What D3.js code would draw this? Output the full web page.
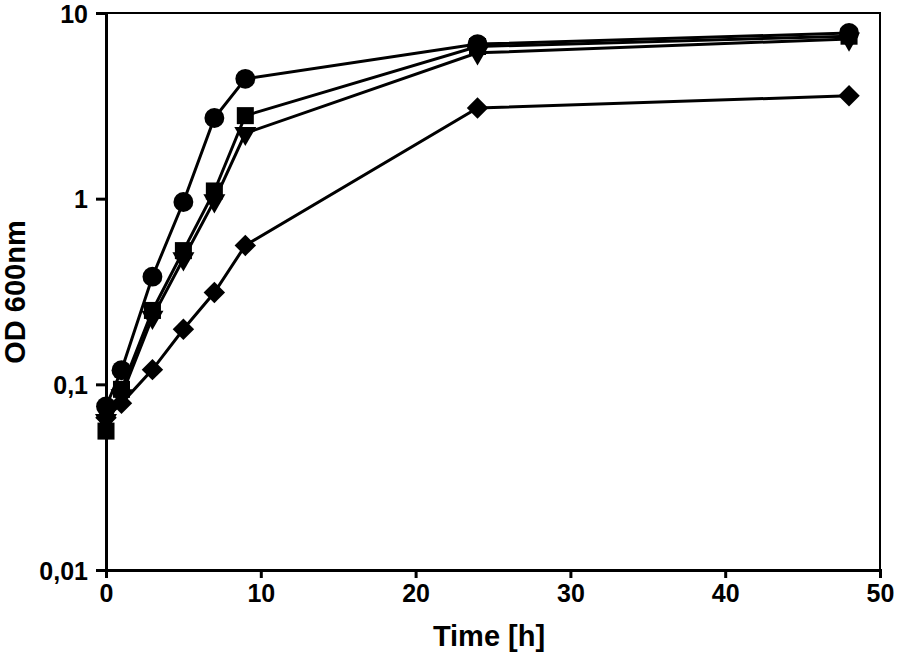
<!DOCTYPE html>
<html><head><meta charset="utf-8">
<script src="https://cdn.jsdelivr.net/npm/d3@7"></script>
<style>body{margin:0;background:#fff}svg{display:block}</style>
</head><body>
<script>
const times = [0, 1, 3, 5, 7, 9, 24, 48];
const circleSeries  = [0.076, 0.119, 0.38, 0.96, 2.72, 4.42, 6.8, 7.8];
const squareSeries  = [0.056, 0.094, 0.25, 0.525, 1.1, 2.8, 6.6, 7.5];
const triangleSeries= [0.064, 0.087, 0.23, 0.475, 0.975, 2.25, 6.1, 7.25];
const diamondSeries = [0.066, 0.079, 0.12, 0.198, 0.312, 0.56, 3.08, 3.58];
const xTicks = [0, 10, 20, 30, 40, 50];
const yTicks = [0.01, 0.1, 1, 10];
const yTickLabels = ["0,01", "0,1", "1", "10"];

const W = 898, H = 663;
const m = {left: 106, right: 18, top: 13, bottom: 93};
const svg = d3.select("body").append("svg").attr("width", W).attr("height", H);
const x = d3.scaleLinear().domain([0, 50]).range([m.left, W - m.right]);
const y = d3.scaleLog().domain([0.01, 10]).range([H - m.bottom, m.top]);

const font = "'Liberation Sans', Arial, sans-serif";

svg.append("rect").attr("x", m.left).attr("y", m.top)
  .attr("width", W - m.right - m.left).attr("height", H - m.bottom - m.top)
  .attr("fill", "none").attr("stroke", "#000").attr("stroke-width", 2);

const xAxis = svg.append("g").attr("transform", `translate(0,${H - m.bottom})`)
  .call(d3.axisBottom(x).tickValues(xTicks).tickSize(8).tickPadding(6));
const yAxis = svg.append("g").attr("transform", `translate(${m.left},0)`)
  .call(d3.axisLeft(y).tickValues(yTicks).tickSize(10).tickPadding(8)
    .tickFormat((d, i) => yTickLabels[i]));
[xAxis, yAxis].forEach(g => {
  g.attr("font-size", null).attr("font-family", null);
  g.select(".domain").attr("stroke-width", 3);
  g.selectAll(".tick line").attr("stroke-width", 3);
  g.selectAll("text").style("font-family", font).style("font-weight", "bold")
    .style("font-size", "25px").attr("fill", "#000");
});
yAxis.selectAll("text").attr("dy", "0.36em");

svg.append("text").attr("x", 489).attr("y", 646)
  .attr("text-anchor", "middle").style("font-family", font).style("font-weight", "bold")
  .style("font-size", "29px").text("Time [h]");
svg.append("text").attr("transform", `translate(25,292) rotate(-90)`)
  .attr("text-anchor", "middle").style("font-family", font).style("font-weight", "bold")
  .style("font-size", "29px").text("OD 600nm");

const line = d3.line().x((d, i) => x(times[i])).y(d => y(d));
const series = [
  {vals: diamondSeries, sym: d3.symbolSquare, size: 230, rot: 45},
  {vals: triangleSeries, sym: d3.symbolTriangle, size: 210, rot: 180},
  {vals: squareSeries, sym: d3.symbolSquare, size: 290, rot: 0},
  {vals: circleSeries, sym: d3.symbolCircle, size: 310, rot: 0}
];
series.forEach(s => {
  svg.append("path").datum(s.vals).attr("d", line)
    .attr("fill", "none").attr("stroke", "#000").attr("stroke-width", 3);
});
series.forEach(s => {
  svg.append("g").selectAll("path").data(s.vals).join("path")
    .attr("d", d3.symbol().type(s.sym).size(s.size))
    .attr("transform", (d, i) => `translate(${x(times[i])},${y(d)}) rotate(${s.rot})`)
    .attr("fill", "#000");
});
</script>
</body></html>
